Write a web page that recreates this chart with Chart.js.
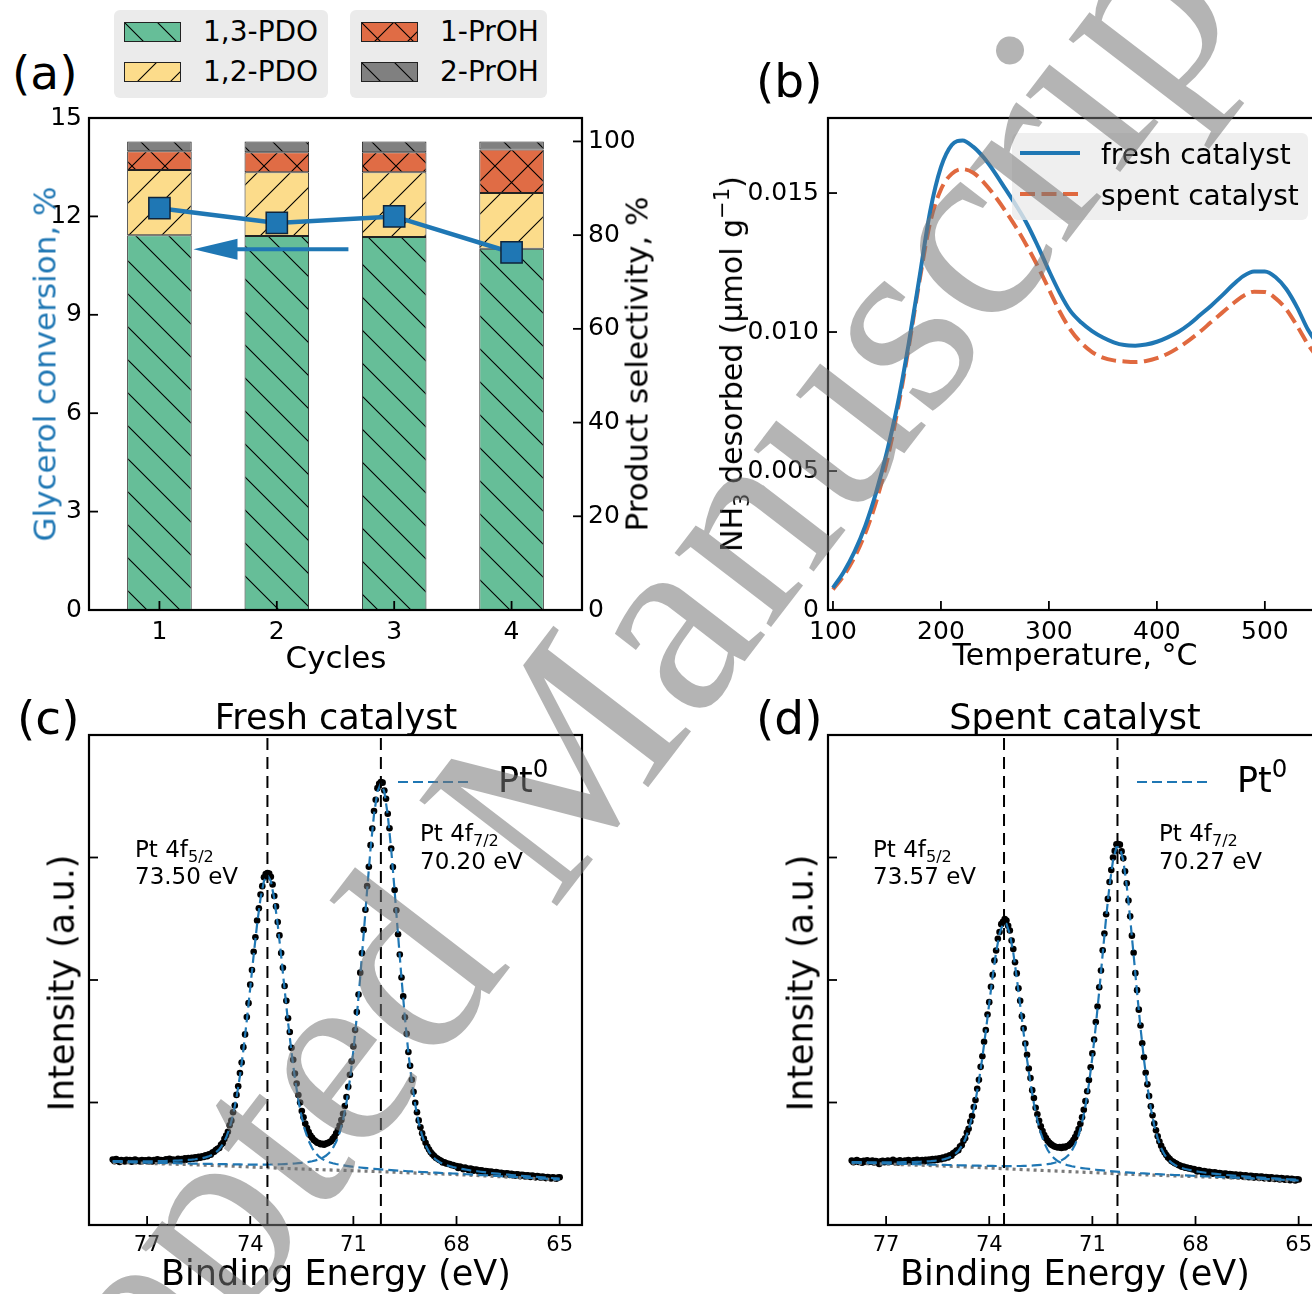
<!DOCTYPE html>
<html>
<head>
<meta charset="utf-8">
<script src="https://cdn.jsdelivr.net/npm/chart.js@4.4.1/dist/chart.umd.min.js"></script>
<style>
  body { margin: 0; width: 1312px; height: 1294px; overflow: hidden; background: #fff; position: relative; font-family: "DejaVu Sans", sans-serif; }
  canvas { position: absolute; }
  .t { position: absolute; white-space: nowrap; line-height: 1; color: #000; }
  .c { transform: translate(-50%, -50%); }
  .l { transform: translate(0, -50%); }
  .r90 { transform: translate(-50%, -50%) rotate(-90deg); }
  .box { position: absolute; background: #ebebeb; border-radius: 6px; }
  sub { font-size: 70%; vertical-align: baseline; position: relative; top: 0.32em; line-height: 0; }
  sup { font-size: 70%; vertical-align: baseline; position: relative; top: -0.6em; line-height: 0; }
  svg { position: absolute; left: 0; top: 0; overflow: visible; }
  #wm { position: absolute; left: 524px; top: 802px; transform: translate(-50%, -50%) rotate(-52.5deg);
        font-family: "Liberation Serif", serif; font-size: 265px; line-height: 1; white-space: nowrap;
        color: rgba(118, 118, 118, 0.55); pointer-events: none; z-index: 20; }
</style>
</head>
<body>

<canvas id="chartA" width="700" height="580" style="left:0;top:100px"></canvas>
<canvas id="chartB" width="640" height="580" style="left:700px;top:100px"></canvas>
<canvas id="chartC" width="700" height="594" style="left:0;top:700px"></canvas>
<canvas id="chartD" width="640" height="594" style="left:740px;top:700px"></canvas>

<!-- panel (a) legend -->
<div class="box" style="left:114px;top:10px;width:214px;height:88px"></div>
<div class="box" style="left:350px;top:10px;width:197px;height:88px"></div>
<canvas class="patch" data-k="0" width="57" height="20" style="left:124px;top:22px"></canvas>
<canvas class="patch" data-k="1" width="57" height="20" style="left:124px;top:62px"></canvas>
<canvas class="patch" data-k="2" width="57" height="20" style="left:361px;top:22px"></canvas>
<canvas class="patch" data-k="3" width="57" height="20" style="left:361px;top:62px"></canvas>
<div class="t l" style="left:203px;top:32px;font-size:28px">1,3-PDO</div>
<div class="t l" style="left:203px;top:72px;font-size:28px">1,2-PDO</div>
<div class="t l" style="left:440px;top:32px;font-size:28px">1-PrOH</div>
<div class="t l" style="left:440px;top:72px;font-size:28px">2-PrOH</div>

<!-- panel labels and axis titles -->
<div class="t l" style="left:12px;top:72px;font-size:47px">(a)</div>
<div class="t l" style="left:756px;top:80px;font-size:47px">(b)</div>
<div class="t l" style="left:17px;top:717px;font-size:47px">(c)</div>
<div class="t l" style="left:756px;top:717px;font-size:47px">(d)</div>

<div class="t r90" style="left:45px;top:364px;font-size:31px;color:#1f77b4">Glycerol conversion, %</div>
<div class="t r90" style="left:637px;top:364px;font-size:31px">Product selectivity, %</div>
<div class="t c" style="left:336px;top:657px;font-size:31px">Cycles</div>

<div class="t r90" style="left:732px;top:364px;font-size:30px">NH<sub>3</sub> desorbed (μmol g<sup>−1</sup>)</div>
<div class="t c" style="left:1075px;top:655px;font-size:30px">Temperature, °C</div>

<div class="t c" style="left:336px;top:717px;font-size:35px">Fresh catalyst</div>
<div class="t c" style="left:1075px;top:717px;font-size:35px">Spent catalyst</div>
<div class="t r90" style="left:62px;top:983px;font-size:35px">Intensity (a.u.)</div>
<div class="t r90" style="left:801px;top:983px;font-size:35px">Intensity (a.u.)</div>
<div class="t c" style="left:336px;top:1273px;font-size:35px">Binding Energy (eV)</div>
<div class="t c" style="left:1075px;top:1273px;font-size:35px">Binding Energy (eV)</div>

<!-- XPS peak notes -->
<div class="t l" style="left:135px;top:849px;font-size:23px">Pt 4f<sub>5/2</sub></div>
<div class="t l" style="left:135px;top:876px;font-size:23px">73.50 eV</div>
<div class="t l" style="left:420px;top:833px;font-size:23px">Pt 4f<sub>7/2</sub></div>
<div class="t l" style="left:420px;top:861px;font-size:23px">70.20 eV</div>
<div class="t l" style="left:873px;top:849px;font-size:23px">Pt 4f<sub>5/2</sub></div>
<div class="t l" style="left:873px;top:876px;font-size:23px">73.57 eV</div>
<div class="t l" style="left:1159px;top:833px;font-size:23px">Pt 4f<sub>7/2</sub></div>
<div class="t l" style="left:1159px;top:861px;font-size:23px">70.27 eV</div>

<!-- line legends -->
<div class="box" style="left:1012px;top:133px;width:296px;height:87px;background:rgba(235,235,235,0.8)"></div>
<svg width="1312" height="1294">
  <line x1="1020" y1="153" x2="1080" y2="153" stroke="#1f77b4" stroke-width="4"/>
  <line x1="1020" y1="194" x2="1080" y2="194" stroke="#e0693f" stroke-width="4" stroke-dasharray="15 6.5"/>
  <line x1="398" y1="782" x2="470" y2="782" stroke="#1f77b4" stroke-width="2" stroke-dasharray="10 5"/>
  <line x1="1137" y1="782" x2="1209" y2="782" stroke="#1f77b4" stroke-width="2" stroke-dasharray="10 5"/>
</svg>
<div class="t l" style="left:1101px;top:155px;font-size:28px">fresh catalyst</div>
<div class="t l" style="left:1101px;top:196px;font-size:28px">spent catalyst</div>
<div class="t l" style="left:498px;top:780px;font-size:35px">Pt<sup>0</sup></div>
<div class="t l" style="left:1237px;top:780px;font-size:35px">Pt<sup>0</sup></div>

<div id="wm">Accepted Manuscript</div>

<script>
// ---- (a) recycling test ----
const cycles = [1, 2, 3, 4];
const productNames = ['1,3-PDO', '1,2-PDO', '1-PrOH', '2-PrOH'];
const sel13PDO = [80.0, 79.8, 79.6, 77.1];
const sel12PDO = [13.9, 13.6, 13.8, 11.9];
const sel1PrOH = [4.0, 4.3, 4.3, 9.3];
const sel2PrOH = [2.1, 2.3, 2.3, 1.7];
const glyConv = [12.25, 11.8, 12.0, 10.9];
const arrowFrom = [2.61, 11.0];
const arrowTo = [1.29, 11.0];

// ---- (b) NH3-TPD ----
const tpdTemp = [100, 110, 120, 130, 140, 150, 160, 170, 180, 190, 200, 210, 220, 230, 240, 250, 260, 270, 280, 290,
  300, 310, 320, 330, 340, 350, 360, 370, 380, 390, 400, 410, 420, 430, 440, 450, 460, 470, 480, 490,
  500, 510, 520, 530, 540, 550];
const tpdFresh = [0.00080, 0.00137, 0.00210, 0.00303, 0.00423, 0.00569, 0.00742, 0.00955, 0.01194, 0.01434,
  0.01593, 0.01673, 0.01689, 0.01666, 0.01626, 0.01573, 0.01513, 0.01453, 0.01387, 0.01307,
  0.01221, 0.01141, 0.01075, 0.01034, 0.01003, 0.00980, 0.00963, 0.00953, 0.00951, 0.00955,
  0.00965, 0.00981, 0.01001, 0.01028, 0.01061, 0.01094, 0.01130, 0.01168, 0.01201, 0.01218,
  0.01218, 0.01197, 0.01154, 0.01088, 0.01008, 0.00950];
const tpdSpent = [0.00074, 0.00124, 0.00190, 0.00277, 0.00390, 0.00536, 0.00722, 0.00941, 0.01181, 0.01394,
  0.01513, 0.01569, 0.01586, 0.01573, 0.01537, 0.01489, 0.01434, 0.01374, 0.01307, 0.01234,
  0.01154, 0.01074, 0.01008, 0.00961, 0.00928, 0.00908, 0.00898, 0.00894, 0.00892, 0.00896,
  0.00906, 0.00922, 0.00944, 0.00971, 0.01001, 0.01035, 0.01068, 0.01101, 0.01130, 0.01145,
  0.01144, 0.01121, 0.01081, 0.01021, 0.00955, 0.00902];

// ---- (c)/(d) Pt 4f XPS ----
const xpsTicks = [77, 74, 71, 68, 65];
const xpsStartEV = 78.0;     // first channel
const countStepEV = 0.05;    // measured points
const fitStepEV = 0.1;       // fitted components
const bgEnergy = [78, 77, 76, 75, 74, 73, 72, 71, 70, 69, 68, 67, 66, 65];
const freshLines = [73.50, 70.20];
const spentLines = [73.57, 70.27];

const freshCounts = [
  .534,.521,.538,.529,.515,.531,.526,.519,.533,.524,.530,.517,.528,.535,.522,.527,.518,.531,.524,.529,
  .520,.533,.526,.518,.531,.527,.537,.523,.530,.528,.521,.536,.529,.540,.527,.534,.531,.524,.541,.533,
  .538,
  .531,.545,.534,.546,.538,.549,.541,.552,.544,.556,.549,.561,.555,.569,.562,.578,.574,.591,.598,.611,
  .622,.628,.655,.668,.703,.731,.761,.814,.852,.921,.976,1.062,1.133,1.240,1.327,1.452,1.556,1.697,1.811,1.962,
  2.082,2.231,2.348,2.486,2.585,2.697,2.766,2.839,2.865,2.874,2.868,2.842,2.779,2.686,2.601,2.474,2.364,2.221,2.099,1.951,
  1.830,1.688,1.575,1.446,1.348,1.236,1.155,1.061,.999,.931,.879,.828,.792,.758,.731,.712,.694,.683,.671,.668,
  .659,.662,.655,.664,.668,.676,.684,.703,.719,.748,.776,.812,.857,.908,.971,1.045,1.129,1.226,1.336,1.458,
  1.591,1.738,1.882,2.060,2.219,2.409,2.574,2.766,2.924,3.101,3.236,3.379,3.472,3.566,3.601,3.615,3.611,3.547,3.480,3.357,
  3.239,3.074,2.922,2.735,2.569,2.374,2.208,2.021,1.866,1.696,1.561,1.412,1.299,1.186,1.087,.998,.921,.854,.797,.748,
  .706,.671,.640,.616,.594,.577,.563,.549,.540,.531,.524,.511,.512,.503,.499,.497,.489,.490,.482,.481,
  .466,.477,.470,.455,.468,.461,.449,.460,.456,.443,.452,.450,.437,.447,.445,.431,.441,.438,.425,.436,
  .433,.421,.432,.428,.416,.427,.423,.412,.422,.419,.408,.418,.414,.403,.413,.411,.399,.410,.407,.396,
  .406,.404,.392,.403,.400,.389,.399,.396,.386,.395,.391,.383,.392,.387,.380,.389,.385,.378,.387,.390];
const freshPeak52 = [
  .5225,.5221,.5217,.5213,.5208,.5206,.5205,.5203,.5201,.5202,
  .5200,.5204,.5205,.5209,.5213,.5219,.5228,.5237,.5248,.5259,
  .5275,.5292,.5312,.5336,.5368,.5407,.5455,.5520,.5609,.5734,
  .5921,.6186,.6578,.7140,.7926,.8997,1.0395,1.2154,1.4274,1.6702,
  1.9343,2.2039,2.4570,2.6678,2.8088,2.8580,2.8064,2.6630,2.4498,2.1943,
  1.9223,1.6560,1.4110,1.1968,1.0187,.8767,.7674,.6866,.6282,.5868,
  .5581,.5376,.5233,.5126,.5043,.4977,.4920,.4870,.4828,.4790,
  .4755,.4721,.4692,.4663,.4636,.4609,.4585,.4563,.4541,.4522,
  .4500,.4482,.4461,.4443,.4425,.4406,.4388,.4373,.4357,.4341,
  .4325,.4310,.4296,.4281,.4268,.4254,.4241,.4229,.4216,.4202,
  .4189,.4173,.4157,.4143,.4126,.4110,.4093,.4077,.4063,.4047,
  .4030,.4014,.3998,.3981,.3965,.3948,.3932,.3916,.3900,.3884,
  .3868,.3852,.3836,.3821,.3805,.3789,.3774,.3758,.3743,.3727,
  .3711];
const freshPeak72 = [
  .5168,.5159,.5153,.5144,.5135,.5129,.5120,.5114,.5105,.5099,
  .5090,.5085,.5077,.5073,.5068,.5060,.5055,.5050,.5045,.5040,
  .5036,.5027,.5021,.5015,.5009,.5003,.5001,.4995,.4989,.4986,
  .4980,.4975,.4969,.4963,.4958,.4952,.4947,.4941,.4938,.4936,
  .4933,.4931,.4932,.4929,.4933,.4934,.4937,.4941,.4948,.4959,
  .4969,.4984,.4999,.5021,.5046,.5074,.5108,.5152,.5206,.5272,
  .5360,.5481,.5650,.5900,.6259,.6786,.7538,.8588,1.0015,1.1876,
  1.4216,1.7033,2.0260,2.3769,2.7350,3.0713,3.3515,3.5391,3.6050,3.5371,
  3.3475,3.0652,2.7268,2.3666,2.0136,1.6888,1.4050,1.1690,.9809,.8362,
  .7292,.6521,.5975,.5597,.5328,.5140,.5000,.4892,.4806,.4732,
  .4668,.4610,.4558,.4509,.4463,.4424,.4385,.4349,.4312,.4279,
  .4249,.4219,.4191,.4160,.4136,.4108,.4083,.4059,.4034,.4010,
  .3989,.3967,.3946,.3924,.3906,.3885,.3867,.3849,.3821,.3803,
  .3785];
const freshBg = [.512, .503, .495, .486, .474, .462, .452, .443, .433, .422, .412, .398, .383, .368];

const spentCounts = [
  .526,.512,.523,.531,.515,.520,.509,.524,.517,.528,.514,.519,.526,.511,.522,.516,.498,.519,.525,.513,
  .521,.527,.514,.519,.532,.516,.523,.511,.528,.520,.515,.526,.518,.531,.522,.517,.529,.524,.533,.519,
  .527,
  .531,.519,.533,.522,.535,.526,.538,.529,.541,.532,.545,.537,.551,.543,.558,.552,.569,.566,.585,.593,
  .607,.611,.641,.651,.688,.708,.755,.786,.845,.889,.963,1.021,1.112,1.185,1.291,1.377,1.495,1.592,1.718,1.819,
  1.945,2.042,2.159,2.241,2.337,2.392,2.456,2.476,2.497,2.486,2.443,2.404,2.323,2.253,2.145,2.054,1.932,1.831,1.704,1.605,
  1.482,1.390,1.278,1.199,1.101,1.036,.957,.904,.851,.806,.767,.735,.709,.688,.671,.658,.649,.641,.637,.633,
  .636,.629,.638,.633,.642,.647,.659,.674,.693,.717,.748,.784,.827,.879,.940,1.011,1.092,1.184,1.287,1.401,
  1.514,1.657,1.784,1.941,2.078,2.242,2.379,2.537,2.662,2.800,2.897,3.000,3.054,3.108,3.109,3.105,3.050,2.993,2.888,2.789,
  2.649,2.521,2.362,2.222,2.056,1.917,1.758,1.628,1.483,1.369,1.243,1.148,1.053,.969,.895,.829,.773,.724,.682,.647,
  .617,.591,.571,.552,.538,.523,.515,.505,.499,.489,.486,.476,.477,.468,.469,.461,.463,.455,.456,.450,
  .437,.448,.443,.428,.441,.436,.423,.435,.431,.418,.430,.426,.413,.425,.421,.409,.421,.417,.404,.416,
  .413,.401,.412,.409,.397,.409,.406,.394,.405,.402,.390,.401,.399,.387,.398,.396,.384,.395,.393,.381,
  .392,.390,.378,.389,.386,.375,.386,.383,.372,.384,.380,.369,.380,.377,.366,.378,.374,.364,.374,.371];
const spentPeak52 = [
  .5139,.5134,.5129,.5125,.5126,.5124,.5122,.5120,.5119,.5118,
  .5118,.5118,.5118,.5119,.5121,.5126,.5129,.5136,.5143,.5152,
  .5163,.5178,.5194,.5214,.5242,.5274,.5318,.5379,.5467,.5592,
  .5779,.6046,.6440,.7001,.7773,.8804,1.0129,1.1761,1.3679,1.5821,
  1.8083,2.0302,2.2280,2.3783,2.4597,2.4583,2.3741,2.2210,2.0204,1.7957,
  1.5669,1.3503,1.1561,.9905,.8556,.7501,.6705,.6120,.5702,.5411,
  .5202,.5055,.4945,.4862,.4796,.4742,.4692,.4650,.4612,.4575,
  .4543,.4512,.4483,.4454,.4429,.4402,.4378,.4355,.4333,.4311,
  .4290,.4273,.4256,.4240,.4224,.4208,.4194,.4180,.4165,.4150,
  .4136,.4122,.4108,.4095,.4082,.4069,.4057,.4045,.4033,.4021,
  .4008,.3996,.3984,.3972,.3960,.3948,.3936,.3924,.3912,.3900,
  .3888,.3875,.3862,.3849,.3836,.3823,.3810,.3797,.3784,.3771,
  .3758,.3745,.3732,.3720,.3707,.3694,.3682,.3669,.3657,.3644,
  .3631];
const spentPeak72 = [
  .5090,.5085,.5077,.5069,.5064,.5056,.5050,.5042,.5036,.5029,
  .5022,.5015,.5008,.5000,.4993,.4987,.4980,.4973,.4966,.4960,
  .4953,.4944,.4937,.4929,.4922,.4916,.4910,.4903,.4896,.4891,
  .4885,.4878,.4871,.4864,.4858,.4851,.4845,.4840,.4835,.4831,
  .4828,.4823,.4818,.4814,.4813,.4810,.4809,.4811,.4816,.4818,
  .4826,.4835,.4847,.4862,.4882,.4905,.4933,.4972,.5016,.5077,
  .5158,.5278,.5445,.5696,.6056,.6586,.7338,.8371,.9750,1.1520,
  1.3700,1.6260,1.9120,2.2138,2.5103,2.7745,2.9756,3.0847,3.0834,2.9717,
  2.7680,2.5015,2.2027,1.8986,1.6103,1.3520,1.1318,.9526,.8125,.7070,
  .6296,.5744,.5362,.5089,.4900,.4758,.4655,.4572,.4506,.4445,
  .4395,.4349,.4306,.4268,.4233,.4201,.4168,.4141,.4111,.4084,
  .4060,.4037,.4012,.3990,.3969,.3948,.3927,.3907,.3888,.3869,
  .3851,.3834,.3816,.3799,.3782,.3765,.3749,.3732,.3717,.3701,
  .3686];
const spentBg = [.505, .497, .488, .478, .466, .452, .440, .428, .415, .405, .395, .384, .372, .360];

// ---- styling ----
const BLUE = '#1f77b4';
const ORANGE = '#e0693f';
const productFill = ['#66be98', '#fcdc8b', '#e06c45', '#808080'];
const productHatch = ['\\', '/', 'x', '\\'];
const FONT = 'DejaVu Sans';
Chart.defaults.font.family = FONT;
Chart.defaults.color = '#000';
Chart.defaults.animation = false;

function hatchPattern(color, kind) {
  const S = 33;
  const c = document.createElement('canvas');
  c.width = S; c.height = S;
  const g = c.getContext('2d');
  g.fillStyle = color;
  g.fillRect(0, 0, S, S);
  g.strokeStyle = '#000';
  g.lineWidth = 1.1;
  g.beginPath();
  for (const k of [-S, 0, S]) {
    if (kind === '\\' || kind === 'x') { g.moveTo(-2, -2 + k); g.lineTo(S + 2, S + 2 + k); }
    if (kind === '/' || kind === 'x') { g.moveTo(-2, S + 2 + k); g.lineTo(S + 2, -2 + k); }
  }
  g.stroke();
  return g.createPattern(c, 'repeat');
}
const patterns = productFill.map((col, k) => hatchPattern(col, productHatch[k]));

document.querySelectorAll('canvas.patch').forEach(cv => {
  const k = +cv.dataset.k;
  const g = cv.getContext('2d');
  g.fillStyle = patterns[k];
  g.fillRect(0, 0, cv.width, cv.height);
  g.strokeStyle = '#222';
  g.lineWidth = 1;
  g.strokeRect(0.5, 0.5, cv.width - 1, cv.height - 1);
});

// frame + inward tick marks, like the matplotlib axes
const axisBox = {
  id: 'axisBox',
  afterDatasetsDraw(chart, args, opts) {
    const { ctx, chartArea: a } = chart;
    ctx.save();
    ctx.strokeStyle = '#000';
    ctx.lineWidth = 1.8;
    for (const [id, side] of opts.marks || []) {
      const s = chart.scales[id];
      for (const t of s.ticks) {
        const p = s.getPixelForValue(t.value);
        ctx.beginPath();
        if (side === 'l') { ctx.moveTo(a.left, p); ctx.lineTo(a.left + 9, p); }
        if (side === 'r') { ctx.moveTo(a.right, p); ctx.lineTo(a.right - 9, p); }
        if (side === 'b') { ctx.moveTo(p, a.bottom); ctx.lineTo(p, a.bottom - 9); }
        ctx.stroke();
      }
    }
    ctx.lineWidth = 2.2;
    ctx.strokeRect(a.left, a.top, a.right - a.left, a.bottom - a.top);
    ctx.restore();
  }
};

const arrowPlugin = {
  id: 'arrow',
  afterDatasetsDraw(chart) {
    const { ctx, scales: { x, y } } = chart;
    const x0 = x.getPixelForValue(arrowFrom[0]);
    const x1 = x.getPixelForValue(arrowTo[0]);
    const yy = y.getPixelForValue(arrowTo[1]);
    ctx.save();
    ctx.strokeStyle = BLUE;
    ctx.fillStyle = BLUE;
    ctx.lineWidth = 4;
    ctx.beginPath(); ctx.moveTo(x0, yy); ctx.lineTo(x1 + 40, yy); ctx.stroke();
    ctx.beginPath(); ctx.moveTo(x1, yy); ctx.lineTo(x1 + 44, yy - 10.5); ctx.lineTo(x1 + 44, yy + 10.5); ctx.closePath(); ctx.fill();
    ctx.restore();
  }
};

const noGrid = { display: false, drawTicks: false };
const noBorder = { display: false };
const tickFont = size => ({ family: FONT, size });
// pin axis sizes so every plot area lands where the figure has it
const fixW = w => s => { s.width = w; s.paddingTop = 0; s.paddingBottom = 0; };
const fixH = h => s => { s.height = h; s.paddingLeft = 0; s.paddingRight = 0; };

// ---- (a) ----
const selections = [sel13PDO, sel12PDO, sel1PrOH, sel2PrOH];
new Chart(document.getElementById('chartA'), {
  type: 'bar',
  data: {
    datasets: [
      {
        type: 'line', label: 'Glycerol conversion', yAxisID: 'y', order: 0,
        data: cycles.map((c, i) => ({ x: c, y: glyConv[i] })),
        borderColor: BLUE, borderWidth: 4.5, tension: 0,
        pointStyle: 'rect', pointRadius: 15, pointBackgroundColor: BLUE,
        pointBorderColor: '#10243a', pointBorderWidth: 1.5
      },
      ...productNames.map((name, k) => ({
        label: name, yAxisID: 'y1', stack: 'sel', order: 1,
        data: cycles.map((c, i) => ({ x: c, y: selections[k][i] })),
        backgroundColor: patterns[k], borderColor: '#222', borderWidth: 1, borderSkipped: false,
        barPercentage: 0.55, categoryPercentage: 1
      }))
    ]
  },
  options: {
    responsive: false, devicePixelRatio: 1, events: [],
    layout: { padding: { top: 18, left: 0, right: 0, bottom: 0 } },
    plugins: { legend: { display: false }, tooltip: { enabled: false },
      axisBox: { marks: [['y', 'l'], ['y1', 'r'], ['x', 'b']] } },
    scales: {
      x: { type: 'linear', min: 0.4, max: 4.6, offset: false, stacked: true, grid: noGrid, border: noBorder,
           ticks: { stepSize: 1, includeBounds: false, padding: 7, font: tickFont(25) },
           afterFit: fixH(70) },
      y: { position: 'left', min: 0, max: 15, grid: noGrid, border: noBorder,
           ticks: { stepSize: 3, includeBounds: false, padding: 7, font: tickFont(25) },
           afterFit: fixW(89) },
      y1: { position: 'right', min: 0, max: 105, stacked: true, grid: noGrid, border: noBorder,
            ticks: { stepSize: 20, includeBounds: false, padding: 6, font: tickFont(25) },
            afterFit: fixW(118) }
    }
  },
  plugins: [axisBox, arrowPlugin]
});

// ---- (b) ----
new Chart(document.getElementById('chartB'), {
  type: 'line',
  data: {
    datasets: [
      { label: 'fresh catalyst', data: tpdTemp.map((t, i) => ({ x: t, y: tpdFresh[i] })),
        borderColor: BLUE, borderWidth: 4, pointRadius: 0, cubicInterpolationMode: 'monotone' },
      { label: 'spent catalyst', data: tpdTemp.map((t, i) => ({ x: t, y: tpdSpent[i] })),
        borderColor: ORANGE, borderWidth: 4, borderDash: [15, 6.5], pointRadius: 0, cubicInterpolationMode: 'monotone' }
    ]
  },
  options: {
    responsive: false, devicePixelRatio: 1, events: [],
    layout: { padding: { top: 18, right: 19, left: 0, bottom: 0 } },
    plugins: { legend: { display: false }, tooltip: { enabled: false },
      axisBox: { marks: [['y', 'l'], ['x', 'b']] } },
    scales: {
      x: { type: 'linear', min: 95.4, max: 552, grid: noGrid, border: noBorder,
           ticks: { stepSize: 100, includeBounds: false, padding: 7, font: tickFont(25) },
           afterFit: fixH(70) },
      y: { min: 0, max: 0.0177, grid: noGrid, border: noBorder,
           ticks: { stepSize: 0.005, includeBounds: false, padding: 9, font: tickFont(25),
                    callback: v => (v === 0 ? '0' : v.toFixed(3)) },
           afterFit: fixW(128) }
    }
  },
  plugins: [axisBox]
});

// ---- (c) / (d) ----
function xpsChart(id, counts, peak52, peak72, bg, lines, leftW, rightPad) {
  const pts = counts.map((v, i) => ({ x: xpsStartEV - i * countStepEV, y: v }));
  const fit = arr => arr.map((v, i) => ({ x: xpsStartEV - i * fitStepEV, y: v }));
  const dashed = { showLine: true, pointRadius: 0, borderColor: BLUE, borderWidth: 2.2, borderDash: [10, 5], order: 1 };
  new Chart(document.getElementById(id), {
    type: 'scatter',
    data: {
      datasets: [
        ...lines.map(e => ({ data: [{ x: e, y: 0 }, { x: e, y: 4 }], showLine: true, pointRadius: 0,
                              borderColor: '#000', borderWidth: 2, borderDash: [12, 7], order: 0 })),
        { ...dashed, data: fit(peak52) },
        { ...dashed, data: fit(peak72) },
        { data: bgEnergy.map((e, i) => ({ x: e, y: bg[i] })), showLine: true, pointRadius: 0,
          borderColor: '#7a7a7a', borderWidth: 3.2, borderDash: [3, 4], order: 2 },
        { data: pts, pointRadius: 3.3, pointBackgroundColor: '#000', pointBorderWidth: 0, order: 3 }
      ]
    },
    options: {
      responsive: false, devicePixelRatio: 1, events: [],
      layout: { padding: { top: 35, right: rightPad, left: 0, bottom: 0 } },
      plugins: { legend: { display: false }, tooltip: { enabled: false },
        axisBox: { marks: [['y', 'l'], ['x', 'b']] } },
      scales: {
        x: { type: 'linear', reverse: true, min: 64.35, max: 78.69, grid: noGrid, border: noBorder,
             afterBuildTicks(s) { s.ticks = xpsTicks.map(v => ({ value: v })); },
             ticks: { padding: 8, font: tickFont(21) },
             afterFit: fixH(69) },
        y: { min: 0, max: 4, grid: noGrid, border: noBorder,
             ticks: { stepSize: 1, display: false },
             afterFit: fixW(leftW) }
      }
    },
    plugins: [axisBox]
  });
}
xpsChart('chartC', freshCounts, freshPeak52, freshPeak72, freshBg, freshLines, 89, 118);
xpsChart('chartD', spentCounts, spentPeak52, spentPeak72, spentBg, spentLines, 88, 59);
</script>
</body>
</html>
